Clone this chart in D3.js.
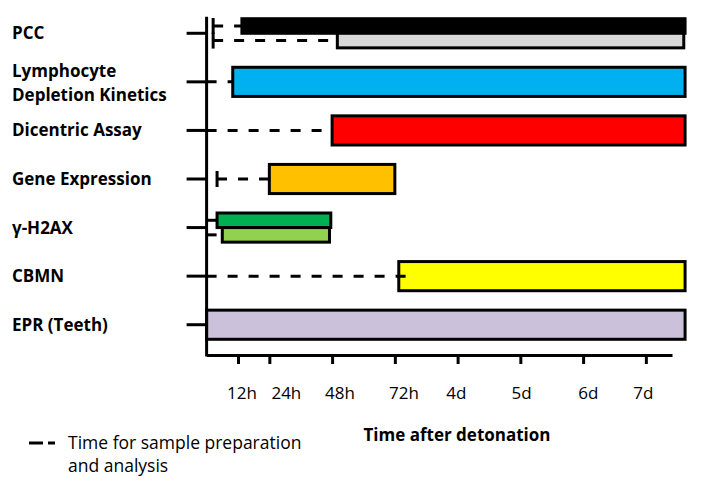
<!DOCTYPE html>
<html><head><meta charset="utf-8">
<script src="https://cdn.jsdelivr.net/npm/d3@7"></script>
<style>body{margin:0;background:#fff;} text{font-family:"Open Sans",sans-serif;fill:#000;}</style>
</head><body><svg id="c" width="702" height="490"></svg>
<script>
// ---- data (hours after detonation) ----
const categories = ["PCC","Lymphocyte Depletion Kinetics","Dicentric Assay","Gene Expression","γ-H2AX","CBMN","EPR (Teeth)"];
const categoryLines = [["PCC"],["Lymphocyte","Depletion Kinetics"],["Dicentric Assay"],["Gene Expression"],["γ-H2AX"],["CBMN"],["EPR (Teeth)"]];
const barCategory = ["PCC","PCC","Lymphocyte Depletion Kinetics","Dicentric Assay","Gene Expression","γ-H2AX","γ-H2AX","CBMN","EPR (Teeth)"];
const barLane  = [0,1,0,0,0,0,1,0,0];
const barStart = [13.5,50,10,48,24,4,6,73.5,0];
const barEnd   = [183,182.5,183,183,72,47.5,47,183,183];
const prepStart = [2.5,2.5,0,0,4,0,0,0,null];
const prepEnd   = [13.5,50,10,48,24,4,6,80,null];
const prepCap   = [true,true,false,false,true,false,false,false,false];
const barColors = ["#000000","#d9d9d9","#00b0f0","#ff0000","#ffc000","#00b050","#92d050","#ffff00","#ccc1da"];
const tickHours = [12,24,48,72,96,120,144,168];
const tickLabels = ["12h","24h","48h","72h","4d","5d","6d","7d"];
const tickLabelHours = [13.5,30.5,51,75.5,95.5,120.5,146,167];

// ---- layout ----
const svg = d3.select("#c");
const axisY = 355;
const x = d3.scaleLinear().domain([0,178]).range([206.6,672]);
const y = d3.scaleBand().domain(categories).range([9,349]).paddingInner(0.4).paddingOuter(0.2);
const laneCount = {};
barCategory.forEach((c,i)=>{laneCount[c]=Math.max(laneCount[c]||0,barLane[i]+1);});
const laneH = i => y.bandwidth()/laneCount[barCategory[i]];
const laneTop = i => y(barCategory[i]) + barLane[i]*laneH(i);

const bars = barCategory.map((c,i)=>({i}));

// bars
svg.append("g").selectAll("rect").data(bars).join("rect")
  .attr("x", d=>x(barStart[d.i]))
  .attr("y", d=>laneTop(d.i))
  .attr("width", d=>x(barEnd[d.i])-x(barStart[d.i]))
  .attr("height", d=>laneH(d.i))
  .attr("fill", d=>barColors[d.i])
  .attr("stroke","#000").attr("stroke-width",3);

// prep dashed lines
const preps = bars.filter(d=>prepStart[d.i]!==null);
svg.append("g").selectAll("line").data(preps).join("line")
  .attr("x1", d=>x(prepStart[d.i])).attr("x2", d=>x(prepEnd[d.i]))
  .attr("y1", d=>laneTop(d.i)+laneH(d.i)/2).attr("y2", d=>laneTop(d.i)+laneH(d.i)/2)
  .attr("stroke","#000").attr("stroke-width",3).attr("stroke-dasharray","10,11");
svg.append("g").selectAll("line").data(preps.filter(d=>prepCap[d.i])).join("line")
  .attr("x1", d=>x(prepStart[d.i])).attr("x2", d=>x(prepStart[d.i]))
  .attr("y1", d=>laneTop(d.i)+laneH(d.i)/2-8).attr("y2", d=>laneTop(d.i)+laneH(d.i)/2+8)
  .attr("stroke","#000").attr("stroke-width",3);

// bottom axis
const xAxis = d3.axisBottom(x).tickValues(tickHours).tickFormat("").tickSize(9).tickSizeOuter(0);
const gx = svg.append("g").attr("transform",`translate(0,${axisY})`).call(xAxis);
gx.selectAll("path,line").attr("stroke","#000").attr("stroke-width",3);
svg.append("g").selectAll("text").data(tickLabels).join("text")
  .attr("x",(d,i)=>x(tickLabelHours[i])).attr("y",axisY+44)
  .attr("text-anchor","middle").attr("font-size",17).text(d=>d);

// left axis
svg.append("line").attr("x1",x(0)).attr("x2",x(0))
  .attr("y1",y(categories[0])-2).attr("y2",axisY+1.5)
  .attr("stroke","#000").attr("stroke-width",3);
svg.append("g").selectAll("line").data(categories).join("line")
  .attr("x1",x(0)-20).attr("x2",x(0))
  .attr("y1",d=>y(d)+y.bandwidth()/2).attr("y2",d=>y(d)+y.bandwidth()/2)
  .attr("stroke","#000").attr("stroke-width",3);

// category labels
const lab = svg.append("g").selectAll("text").data(categories).join("text")
  .attr("x",12).attr("font-size",17).attr("font-weight","bold");
lab.each(function(d,i){
  const lines = categoryLines[i];
  const cy = y(d)+y.bandwidth()/2;
  d3.select(this).selectAll("tspan").data(lines).join("tspan")
    .attr("x",12).attr("y",(l,j)=>cy + (j-(lines.length-1)/2)*24 + 6 + (lines.length-1)*1.5).text(l=>l);
});

// x title
svg.append("text").attr("x",457).attr("y",441).attr("text-anchor","middle")
  .attr("font-size",17).attr("font-weight","bold").text("Time after detonation");

// legend
svg.append("line").attr("x1",29).attr("x2",43).attr("y1",443).attr("y2",443).attr("stroke","#000").attr("stroke-width",3);
svg.append("line").attr("x1",48).attr("x2",55).attr("y1",443).attr("y2",443).attr("stroke","#000").attr("stroke-width",3);
svg.append("text").attr("font-size",17.5).selectAll("tspan")
  .data(["Time for sample preparation","and analysis"]).join("tspan")
  .attr("x",68).attr("y",(d,i)=>449+i*23).text(d=>d);
</script></body></html>
